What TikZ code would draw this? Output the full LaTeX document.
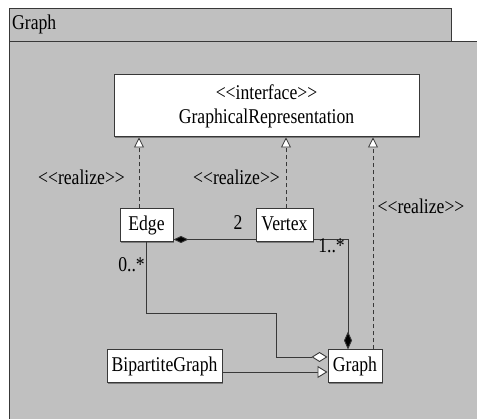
\documentclass[tikz,border=0pt]{standalone}
\usepackage{fontspec}
\setmainfont{LiberationSerif}[Extension=.ttf, UprightFont=*-Regular, FakeStretch=0.84]
\usetikzlibrary{arrows.meta,shadows}
\definecolor{pkg}{HTML}{C0C0C0}
\definecolor{ink}{HTML}{383838}
\newcommand{\stereo}[1]{<{}<#1>{}>}
\begin{document}
\begin{tikzpicture}[x=1pt,y=-1pt,
  font=\fontsize{21}{24}\selectfont,
  frame/.style={draw=ink, line width=1pt, fill=pkg},
  cls/.style={draw=ink, fill=white, line width=1pt, minimum height=33pt,
    inner sep=0pt, text height=14pt, text depth=4.6pt,
    drop shadow={shadow xshift=1pt, shadow yshift=-1pt, fill=black, opacity=.35}},
  lbl/.style={inner sep=0pt, anchor=base},
  realize/.style={draw=ink, line width=.8pt, dash pattern=on 4pt off 3pt,
    -{Triangle[fill=white, length=10pt, width=10pt]}},
  assoc/.style={draw=ink, line width=.9pt}]
\useasboundingbox (0,0) rectangle (477,419);
\clip (0,0) rectangle (477,419);
% package frame: tab and body
\draw[frame, drop shadow={shadow xshift=1pt, shadow yshift=0pt, fill=black, opacity=.35}]
  (9,9) rectangle (451,42);
\draw[frame] (9,42) rectangle (490,430);
\node[inner sep=0pt, anchor=base west] (pkgname) at (12,29.5) {Graph};
% classes
\node[cls, minimum width=305pt, minimum height=62pt, align=center,
  text height=, text depth=] (iface) at (266.5,106)
  {\stereo{interface}\\GraphicalRepresentation};
\node[cls, minimum width=53pt] (edge) at (146.5,225.5) {Edge};
\node[cls, minimum width=57pt] (vertex) at (284.5,225.5) {Vertex};
\node[cls, minimum width=54pt] (graph) at (355,366.5) {Graph};
\node[cls, minimum width=115pt] (bip) at (164.5,366.5) {BipartiteGraph};
% realizations of the interface
\draw[realize] ([xshift=-7.5pt]edge.north) -- ([xshift=-7.5pt]edge.north |- iface.south);
\draw[realize] ([xshift=1.5pt]vertex.north) -- ([xshift=1.5pt]vertex.north |- iface.south);
\draw[realize] ([xshift=18pt]graph.north) -- ([xshift=18pt]graph.north |- iface.south);
\node[lbl] (rl1) at (81.5,185) {\stereo{realize}};
\node[lbl] (rl2) at (236.5,185) {\stereo{realize}};
\node[lbl] (rl3) at (421,214) {\stereo{realize}};
% compositions
\draw[assoc, {Diamond[fill=black, length=15pt, width=7pt]}-]
  ([yshift=3pt]edge.south east) -- ([yshift=3pt]edge.south east -| vertex.west);
\draw[assoc, -{Diamond[fill=black, length=18pt, width=8pt]}]
  ([yshift=3pt]vertex.south east) -| ([xshift=-7pt]graph.north);
\node[lbl] (m2) at (238,230) {2};
\node[lbl, anchor=base east] (m1n) at (345,253) {1..*};
% aggregation of edges
\coordinate (bend) at (276,313);
\draw[assoc, -{Diamond[fill=white, length=16pt, width=10pt]}]
  (edge.south) |- (bend) |- ([yshift=9.5pt]graph.west);
\node[lbl, anchor=base east] (m0n) at (145,272) {0..*};
% generalization
\draw[assoc, -{Triangle[fill=white, length=10pt, width=12pt]}]
  ([yshift=-5.5pt]bip.east) -- ([yshift=-5.5pt]bip.east -| graph.west);
\end{tikzpicture}
\end{document}
